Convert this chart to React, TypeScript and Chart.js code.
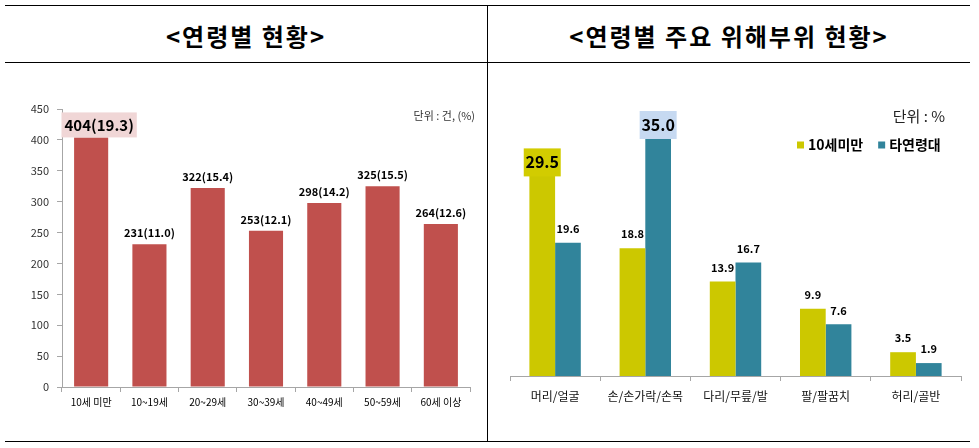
import React, { useEffect, useRef } from 'react';
import { Chart, registerables } from 'chart.js';

Chart.register(...registerables);

const FONT = '"Noto Sans CJK KR", "Noto Sans", sans-serif';

// ---- Left chart data ----
const ageCategories = ['10세 미만', '10~19세', '20~29세', '30~39세', '40~49세', '50~59세', '60세 이상'];
const ageCounts = [404, 231, 322, 253, 298, 325, 264];
const agePercents = ['19.3', '11.0', '15.4', '12.1', '14.2', '15.5', '12.6'];
const ageAxisMax = 450;
const ageAxisStep = 50;

// ---- Right chart data ----
const partCategories = ['머리/얼굴', '손/손가락/손목', '다리/무릎/발', '팔/팔꿈치', '허리/골반'];
const under10Values = [29.5, 18.8, 13.9, 9.9, 3.5];
const otherAgesValues = [19.6, 35.0, 16.7, 7.6, 1.9];
const seriesNames = ['10세미만', '타연령대'];

const leftTitle = '<연령별 현황>';
const rightTitle = '<연령별 주요 위해부위 현황>';
const leftUnit = '단위 : 건, (%)';
const rightUnit = '단위 : %';

const RED = '#C0504D';
const YELLOW = '#CCC800';
const TEAL = '#31849B';

const argMax = (arr: number[]) => arr.reduce((b, v, i) => (v > arr[b] ? i : b), 0);

function LeftChart() {
  const ref = useRef<HTMLCanvasElement>(null);
  useEffect(() => {
    const maxIdx = argMax(ageCounts);
    const labelPlugin = {
      id: 'leftLabels',
      afterDatasetsDraw(chart: any) {
        const ctx = chart.ctx;
        const meta = chart.getDatasetMeta(0);
        ctx.save();
        ctx.textAlign = 'center';
        ctx.textBaseline = 'middle';
        meta.data.forEach((bar: any, i: number) => {
          const text = `${ageCounts[i]}(${agePercents[i]})`;
          if (i === maxIdx) {
            ctx.font = `bold 15px ${FONT}`;
            const w = ctx.measureText(text).width + 6;
            const cx = bar.x + 8;
            ctx.fillStyle = '#F0D6D6';
            ctx.fillRect(cx - w / 2, bar.y - 25, w, 25);
            ctx.fillStyle = '#000';
            ctx.fillText(text, cx, bar.y - 12);
          } else {
            ctx.font = `bold 11px ${FONT}`;
            ctx.fillStyle = '#000';
            ctx.fillText(text, bar.x, bar.y - 11);
          }
        });
        ctx.font = `11px ${FONT}`;
        ctx.fillStyle = '#333';
        ctx.textAlign = 'right';
        ctx.fillText(leftUnit, chart.chartArea.right + 5, 46);
        ctx.restore();
      },
    };
    const chart = new Chart(ref.current!, {
      type: 'bar',
      data: {
        labels: ageCategories,
        datasets: [
          {
            data: ageCounts,
            backgroundColor: RED,
            categoryPercentage: 0.585,
            barPercentage: 1,
          },
        ],
      },
      options: {
        responsive: false,
        animation: false,
        devicePixelRatio: 1,
        layout: { padding: { top: 39, right: 17, left: 0, bottom: 0 } },
        plugins: { legend: { display: false }, tooltip: { enabled: false } },
        scales: {
          x: {
            grid: { drawOnChartArea: false, tickLength: 5, color: '#A6A6A6' },
            border: { color: '#A6A6A6' },
            ticks: { font: { family: FONT, size: 10 }, color: '#000', padding: 4, maxRotation: 0, autoSkip: false },
            afterFit: (s: any) => { s.height = 53; },
          },
          y: {
            min: 0,
            max: ageAxisMax,
            grid: { drawOnChartArea: false, tickLength: 5, color: '#A6A6A6' },
            border: { color: '#A6A6A6' },
            ticks: { stepSize: ageAxisStep, font: { family: FONT, size: 11 }, color: '#333', padding: 8 },
            afterFit: (s: any) => { s.width = 62; },
          },
        },
      },
      plugins: [labelPlugin],
    });
    return () => chart.destroy();
  }, []);
  return <canvas ref={ref} width={487} height={370} style={{ position: 'absolute', left: 0, top: 70 }} />;
}

function RightChart() {
  const ref = useRef<HTMLCanvasElement>(null);
  useEffect(() => {
    const series = [under10Values, otherAgesValues];
    const colors = [YELLOW, TEAL];
    const boxColors = ['#D2CC00', '#C6D9F1'];
    const labelPlugin = {
      id: 'rightLabels',
      afterDatasetsDraw(chart: any) {
        const ctx = chart.ctx;
        ctx.save();
        ctx.textAlign = 'center';
        ctx.textBaseline = 'middle';
        series.forEach((vals, d) => {
          const maxIdx = argMax(vals);
          const meta = chart.getDatasetMeta(d);
          meta.data.forEach((bar: any, i: number) => {
            const text = vals[i].toFixed(1);
            if (i === maxIdx && vals[i] === Math.max(...series.map((s) => s[i])) && vals[i] > 25) {
              ctx.font = `bold 16px ${FONT}`;
              const w = 37;
              const h = 28;
              ctx.fillStyle = boxColors[d];
              ctx.fillRect(bar.x - w / 2, bar.y - h + 1, w, h);
              ctx.fillStyle = '#000';
              ctx.fillText(text, bar.x, bar.y - h / 2 + 1);
            } else {
              ctx.font = `bold 11px ${FONT}`;
              ctx.fillStyle = '#000';
              ctx.fillText(text, bar.x, bar.y - 14);
            }
          });
        });
        // unit
        ctx.font = `15px ${FONT}`;
        ctx.fillStyle = '#222';
        ctx.textAlign = 'right';
        ctx.fillText(rightUnit, 457, 46);
        // legend
        ctx.textAlign = 'left';
        ctx.font = `bold 14px ${FONT}`;
        let x = 309;
        const y = 75;
        chart.data.datasets.forEach((ds: any, d: number) => {
          ctx.fillStyle = ds.backgroundColor;
          ctx.fillRect(x, y - 3.5, 7, 7);
          x += 11;
          ctx.fillStyle = '#000';
          ctx.fillText(ds.label, x, y);
          x += ctx.measureText(ds.label).width + 15;
        });
        ctx.restore();
      },
    };
    const chart = new Chart(ref.current!, {
      type: 'bar',
      data: {
        labels: partCategories,
        datasets: series.map((vals, d) => ({
          label: seriesNames[d],
          data: vals,
          backgroundColor: colors[d],
          categoryPercentage: 0.57,
          barPercentage: 1,
        })),
      },
      options: {
        responsive: false,
        animation: false,
        devicePixelRatio: 1,
        layout: { padding: { top: 34, right: 18, left: 22, bottom: 0 } },
        plugins: { legend: { display: false }, tooltip: { enabled: false } },
        scales: {
          x: {
            grid: { drawOnChartArea: false, tickLength: 5, color: '#A6A6A6' },
            border: { color: '#A6A6A6' },
            ticks: { font: { family: FONT, size: 12 }, color: '#111', padding: 8, maxRotation: 0, autoSkip: false },
            afterFit: (s: any) => { s.height = 64; },
          },
          y: { display: false, min: 0, max: 40 },
        },
      },
      plugins: [labelPlugin],
    });
    return () => chart.destroy();
  }, []);
  return <canvas ref={ref} width={491} height={370} style={{ position: 'absolute', left: 488, top: 70 }} />;
}

const line = (style: React.CSSProperties) => (
  <div style={{ position: 'absolute', background: '#000', ...style }} />
);

const titleStyle: React.CSSProperties = {
  position: 'absolute',
  top: 19,
  height: 34,
  lineHeight: '34px',
  textAlign: 'center',
  fontFamily: FONT,
  fontWeight: 'bold',
  fontSize: 24,
  letterSpacing: 2,
  color: '#000',
  whiteSpace: 'nowrap',
};

export default function App() {
  return (
    <div style={{ position: 'absolute', left: 0, top: 0, width: 979, height: 448, background: '#fff', overflow: 'hidden' }}>
      {line({ left: 5, top: 5, width: 965, height: 1 })}
      {line({ left: 5, top: 62, width: 965, height: 1 })}
      {line({ left: 5, top: 441, width: 965, height: 1 })}
      {line({ left: 487, top: 5, width: 1, height: 437 })}
      <div style={{ ...titleStyle, left: 5, width: 482 }}>{leftTitle}</div>
      <div style={{ ...titleStyle, left: 488, width: 482 }}>{rightTitle}</div>
      <LeftChart />
      <RightChart />
    </div>
  );
}
